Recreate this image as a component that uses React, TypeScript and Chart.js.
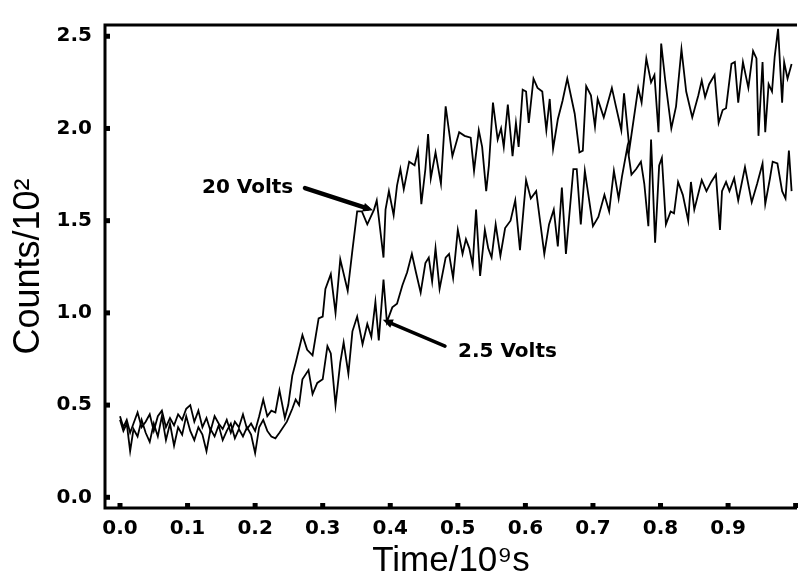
import React, { useEffect, useRef } from "react";
import { Chart, registerables } from "chart.js";

Chart.register(...registerables);

// [time (10^-9 s), counts (10^2)]
const series20V: [number, number][] = [
  [0.0, 0.44], [0.005, 0.38], [0.01, 0.42], [0.015, 0.35], [0.02, 0.4], [0.026, 0.46], [0.032, 0.38], [0.038, 0.41],
  [0.044, 0.45], [0.05, 0.36], [0.056, 0.44], [0.062, 0.47], [0.068, 0.38], [0.074, 0.43], [0.08, 0.39], [0.086, 0.45],
  [0.092, 0.42], [0.098, 0.48], [0.104, 0.5], [0.11, 0.41], [0.116, 0.47], [0.122, 0.38], [0.128, 0.43], [0.134, 0.36],
  [0.14, 0.44], [0.146, 0.4], [0.152, 0.37], [0.158, 0.42], [0.164, 0.35], [0.17, 0.41], [0.176, 0.38], [0.182, 0.45],
  [0.188, 0.37], [0.194, 0.4], [0.2, 0.36], [0.206, 0.44], [0.212, 0.53], [0.218, 0.44], [0.224, 0.47], [0.23, 0.46],
  [0.236, 0.58], [0.244, 0.43], [0.249, 0.5], [0.255, 0.66], [0.26, 0.73], [0.27, 0.88], [0.277, 0.8], [0.285, 0.77],
  [0.294, 0.97], [0.3, 0.98], [0.304, 1.13], [0.312, 1.21], [0.319, 1.0], [0.326, 1.29], [0.337, 1.12], [0.344, 1.34],
  [0.351, 1.55], [0.358, 1.55], [0.366, 1.48], [0.376, 1.56], [0.38, 1.61], [0.39, 1.3], [0.393, 1.56], [0.398, 1.66],
  [0.405, 1.53], [0.41, 1.69], [0.415, 1.78], [0.42, 1.67], [0.428, 1.82], [0.436, 1.8], [0.441, 1.88], [0.446, 1.59],
  [0.452, 1.78], [0.456, 1.97], [0.46, 1.73], [0.467, 1.87], [0.475, 1.7], [0.482, 2.12], [0.492, 1.85], [0.502, 1.98],
  [0.51, 1.96], [0.519, 1.95], [0.524, 1.77], [0.531, 1.99], [0.536, 1.9], [0.542, 1.66], [0.546, 1.8], [0.552, 2.14],
  [0.559, 1.94], [0.564, 2.0], [0.568, 1.9], [0.574, 2.13], [0.581, 1.85], [0.586, 2.03], [0.59, 1.9], [0.596, 2.21],
  [0.601, 2.2], [0.605, 2.03], [0.612, 2.27], [0.618, 2.22], [0.625, 2.2], [0.631, 1.99], [0.636, 2.16], [0.641, 1.89],
  [0.648, 2.05], [0.655, 2.15], [0.662, 2.27], [0.673, 2.08], [0.68, 1.87], [0.685, 1.88], [0.69, 2.23], [0.697, 2.18],
  [0.703, 2.01], [0.707, 2.16], [0.716, 2.06], [0.728, 2.22], [0.734, 2.12], [0.742, 1.99], [0.746, 2.19], [0.754, 1.89],
  [0.767, 2.22], [0.772, 2.14], [0.779, 2.38], [0.786, 2.25], [0.791, 2.29], [0.797, 1.98], [0.801, 2.46], [0.807, 2.26],
  [0.816, 2.0], [0.823, 2.12], [0.831, 2.43], [0.838, 2.2], [0.847, 2.06], [0.856, 2.18], [0.861, 2.26], [0.866, 2.17],
  [0.872, 2.24], [0.88, 2.29], [0.886, 2.03], [0.892, 2.1], [0.897, 2.11], [0.905, 2.35], [0.91, 2.36], [0.915, 2.14],
  [0.922, 2.36], [0.93, 2.22], [0.937, 2.42], [0.942, 2.38], [0.945, 1.96], [0.951, 2.36], [0.955, 1.98], [0.96, 2.24],
  [0.965, 2.2], [0.969, 2.39], [0.974, 2.54], [0.98, 2.14], [0.983, 2.36], [0.988, 2.27], [0.994, 2.35],
];

const series25V: [number, number][] = [
  [0.0, 0.42], [0.005, 0.36], [0.01, 0.4], [0.015, 0.25], [0.02, 0.37], [0.026, 0.33], [0.032, 0.42], [0.038, 0.35],
  [0.044, 0.3], [0.05, 0.4], [0.056, 0.33], [0.062, 0.44], [0.068, 0.31], [0.074, 0.4], [0.08, 0.28], [0.086, 0.38],
  [0.092, 0.34], [0.098, 0.44], [0.104, 0.36], [0.11, 0.31], [0.116, 0.38], [0.122, 0.34], [0.128, 0.25], [0.134, 0.37],
  [0.14, 0.33], [0.146, 0.39], [0.152, 0.31], [0.158, 0.36], [0.164, 0.4], [0.17, 0.32], [0.176, 0.37], [0.182, 0.33],
  [0.188, 0.38], [0.194, 0.34], [0.2, 0.24], [0.206, 0.38], [0.212, 0.42], [0.218, 0.36], [0.224, 0.33], [0.23, 0.32],
  [0.236, 0.35], [0.247, 0.41], [0.255, 0.48], [0.26, 0.53], [0.265, 0.5], [0.27, 0.64], [0.279, 0.69], [0.285, 0.56],
  [0.292, 0.62], [0.3, 0.64], [0.307, 0.82], [0.312, 0.78], [0.319, 0.5], [0.326, 0.73], [0.331, 0.84], [0.338, 0.67],
  [0.344, 0.9], [0.351, 0.98], [0.359, 0.83], [0.366, 0.94], [0.372, 0.87], [0.378, 1.06], [0.383, 0.85], [0.39, 1.18],
  [0.395, 0.95], [0.403, 1.03], [0.41, 1.05], [0.418, 1.15], [0.425, 1.22], [0.432, 1.32], [0.438, 1.22], [0.445, 1.11],
  [0.452, 1.27], [0.457, 1.3], [0.462, 1.17], [0.467, 1.35], [0.473, 1.13], [0.482, 1.3], [0.487, 1.32], [0.493, 1.19],
  [0.5, 1.45], [0.507, 1.32], [0.512, 1.4], [0.517, 1.35], [0.522, 1.26], [0.527, 1.56], [0.533, 1.2], [0.54, 1.45],
  [0.545, 1.35], [0.55, 1.3], [0.556, 1.48], [0.563, 1.31], [0.57, 1.46], [0.578, 1.5], [0.585, 1.61], [0.592, 1.34],
  [0.601, 1.72], [0.608, 1.62], [0.616, 1.66], [0.628, 1.32], [0.635, 1.48], [0.642, 1.56], [0.648, 1.36], [0.654, 1.68],
  [0.66, 1.32], [0.671, 1.78], [0.676, 1.78], [0.682, 1.48], [0.688, 1.77], [0.7, 1.47], [0.708, 1.52], [0.717, 1.64],
  [0.724, 1.55], [0.731, 1.77], [0.738, 1.62], [0.743, 1.74], [0.751, 1.9], [0.757, 1.75], [0.764, 1.78], [0.771, 1.82],
  [0.776, 1.7], [0.782, 1.47], [0.786, 1.94], [0.792, 1.38], [0.798, 1.8], [0.802, 1.84], [0.808, 1.48], [0.815, 1.55],
  [0.82, 1.54], [0.826, 1.71], [0.833, 1.64], [0.841, 1.5], [0.845, 1.71], [0.85, 1.56], [0.861, 1.72], [0.868, 1.66],
  [0.875, 1.71], [0.882, 1.75], [0.888, 1.45], [0.891, 1.66], [0.897, 1.71], [0.902, 1.66], [0.909, 1.73], [0.915, 1.61],
  [0.925, 1.79], [0.935, 1.6], [0.943, 1.7], [0.951, 1.81], [0.955, 1.59], [0.962, 1.73], [0.966, 1.82], [0.973, 1.81],
  [0.98, 1.66], [0.985, 1.62], [0.99, 1.88], [0.994, 1.66],
];

const xTickValues = [0.0, 0.1, 0.2, 0.3, 0.4, 0.5, 0.6, 0.7, 0.8, 0.9];
const xTickMarks = [0.0, 0.1, 0.2, 0.3, 0.4, 0.5, 0.6, 0.7, 0.8, 0.9, 1.0];
const yTickValues = [0.0, 0.5, 1.0, 1.5, 2.0, 2.5];

const labels = [
  { text: "20 Volts", at: [0.1214, 1.651], from: [0.2738, 1.677], to: [0.3745, 1.556], width: 4.5 },
  { text: "2.5 Volts", at: [0.5003, 0.762], from: [0.481, 0.82], to: [0.389, 0.963], width: 3.5 },
];

const framePlugin = {
  id: "frame",
  afterDatasetsDraw(chart: any) {
    const { ctx, chartArea, scales } = chart;
    const xs = scales.x;
    const ys = scales.y;
    ctx.save();
    ctx.strokeStyle = "#000";
    ctx.fillStyle = "#000";
    ctx.lineWidth = 3;
    ctx.beginPath();
    ctx.moveTo(chartArea.right, chartArea.top);
    ctx.lineTo(chartArea.left, chartArea.top);
    ctx.lineTo(chartArea.left, chartArea.bottom);
    ctx.lineTo(chartArea.right, chartArea.bottom);
    ctx.stroke();
    // tick marks
    for (const v of xTickMarks) {
      const px = xs.getPixelForValue(v);
      ctx.fillRect(px - 2.5, chartArea.bottom - 5, 5, 5);
    }
    for (const v of yTickValues) {
      const py = ys.getPixelForValue(v);
      ctx.fillRect(chartArea.left, py - 2.5, 5, 5);
    }
    // annotations
    for (const a of labels) {
      const x1 = xs.getPixelForValue(a.from[0]);
      const y1 = ys.getPixelForValue(a.from[1]);
      const x2 = xs.getPixelForValue(a.to[0]);
      const y2 = ys.getPixelForValue(a.to[1]);
      const ang = Math.atan2(y2 - y1, x2 - x1);
      const head = 10;
      ctx.lineWidth = a.width;
      ctx.lineCap = "round";
      ctx.beginPath();
      ctx.moveTo(x1, y1);
      ctx.lineTo(x2 - Math.cos(ang) * head * 0.6, y2 - Math.sin(ang) * head * 0.6);
      ctx.stroke();
      ctx.beginPath();
      ctx.moveTo(x2, y2);
      ctx.lineTo(x2 - head * Math.cos(ang) + 4.5 * Math.sin(ang), y2 - head * Math.sin(ang) - 4.5 * Math.cos(ang));
      ctx.lineTo(x2 - head * Math.cos(ang) - 4.5 * Math.sin(ang), y2 - head * Math.sin(ang) + 4.5 * Math.cos(ang));
      ctx.closePath();
      ctx.fill();
      ctx.font = "bold 20px 'DejaVu Sans'";
      ctx.textAlign = "left";
      ctx.textBaseline = "alphabetic";
      ctx.fillText(a.text, xs.getPixelForValue(a.at[0]), ys.getPixelForValue(a.at[1]));
    }
    ctx.restore();
  },
};

export default function App() {
  const canvasRef = useRef<HTMLCanvasElement | null>(null);

  useEffect(() => {
    if (!canvasRef.current) return;
    const tickFont = { family: "'DejaVu Sans'", weight: "bold" as const, size: 20 };
    const chart = new Chart(canvasRef.current, {
      type: "line",
      data: {
        datasets: [
          {
            label: "20 Volts",
            data: series20V.map(([x, y]) => ({ x, y })),
            borderColor: "#000",
            borderWidth: 1.8,
            pointRadius: 0,
            tension: 0,
          },
          {
            label: "2.5 Volts",
            data: series25V.map(([x, y]) => ({ x, y })),
            borderColor: "#000",
            borderWidth: 1.8,
            pointRadius: 0,
            tension: 0,
          },
        ],
      },
      options: {
        animation: false,
        responsive: true,
        maintainAspectRatio: false,
        layout: { padding: { top: 13, right: 1, left: 0, bottom: 0 } },
        plugins: { legend: { display: false }, tooltip: { enabled: false } },
        scales: {
          x: {
            type: "linear",
            min: -0.0222,
            max: 1.002,
            afterBuildTicks: (s: any) => {
              s.ticks = xTickValues.map((value) => ({ value }));
            },
            afterFit: (s: any) => {
              s.height = 74;
            },
            grid: { display: false, drawTicks: false },
            border: { display: false },
            ticks: {
              autoSkip: false,
              maxRotation: 0,
              padding: 9,
              color: "#000",
              font: tickFont,
              callback: (v: any) => Number(v).toFixed(1),
            },
            title: {
              display: true,
              text: "Time/10⁹s",
              color: "#000",
              font: { family: "'Liberation Sans', Arial", size: 35 },
              padding: { top: 0, bottom: 0 },
            },
          },
          y: {
            type: "linear",
            min: -0.058,
            max: 2.561,
            afterBuildTicks: (s: any) => {
              s.ticks = yTickValues.map((value) => ({ value }));
            },
            afterFit: (s: any) => {
              s.width = 105;
            },
            grid: { display: false, drawTicks: false },
            border: { display: false },
            ticks: {
              padding: 13,
              color: "#000",
              font: tickFont,
              callback: (v: any) => Number(v).toFixed(1),
            },
            title: {
              display: true,
              text: "Counts/10²",
              color: "#000",
              font: { family: "'Liberation Sans', Arial", size: 36 },
              padding: { top: 7, bottom: 0 },
            },
          },
        },
      },
      plugins: [framePlugin],
    });
    return () => chart.destroy();
  }, []);

  return (
    <div style={{ position: "absolute", left: 0, top: 0, width: 798, height: 582, background: "#fff" }}>
      <canvas ref={canvasRef} />
    </div>
  );
}
